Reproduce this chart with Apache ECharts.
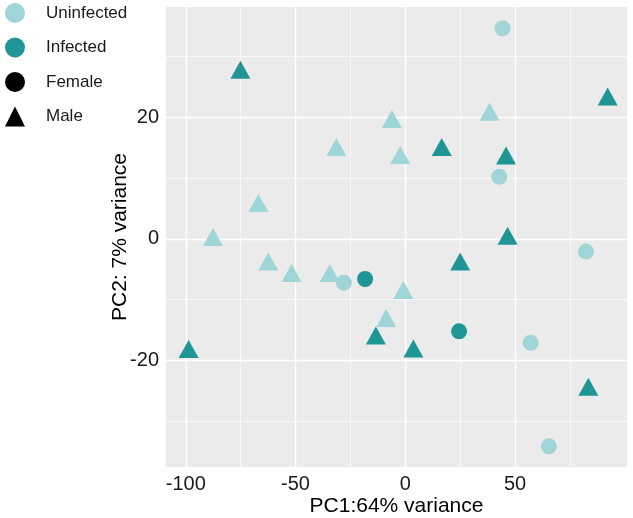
<!DOCTYPE html>
<html>
<head>
<meta charset="utf-8">
<script src="https://cdn.jsdelivr.net/npm/echarts@6/dist/echarts.min.js"></script>
<style>
  html, body { margin: 0; padding: 0; background: #ffffff; }
  #chart { width: 633px; height: 518px; }
</style>
</head>
<body>
<div id="chart"></div>
<script>
// ---- data (PC1, PC2) ----
var uninfectedFemale = [[44.3, 34.6], [42.8, 10.2], [-28.0, -7.2], [82.3, -2.1], [57.1, -17.1], [65.4, -34.1]];
var uninfectedMale = [[-6.1, 19.2], [-31.4, 14.6], [-2.3, 13.3], [-66.9, 5.4], [-87.6, -0.2], [38.4, 20.4],
                      [-62.4, -4.2], [-51.8, -6.1], [-34.4, -6.1], [-0.9, -8.9], [-8.7, -13.5]];
var infectedFemale = [[-18.3, -6.6], [24.5, -15.2]];
var infectedMale = [[-75.1, 27.3], [92.2, 22.9], [16.6, 14.6], [45.9, 13.2], [46.6, 0.0], [25.0, -4.2],
                    [-13.4, -16.4], [-98.7, -18.6], [3.7, -18.5], [83.4, -24.8]];

var xTicks = [-100, -50, 0, 50];
var xMinor = [-75, -25, 25, 75];
var yTicks = [-20, 0, 20];
var yMinor = [-30, -10, 10, 30];
var legendNames = ['Uninfected', 'Infected', 'Female', 'Male'];

var colUn = '#9fd5d6';
var colIn = '#1f9595';
var font = 'Liberation Sans, Arial, sans-serif';

var chart = echarts.init(document.getElementById('chart'), null, { renderer: 'canvas' });

function gridSeries(xs, ys, width) {
  var d = [];
  xs.forEach(function (v) { d.push({ xAxis: v }); });
  ys.forEach(function (v) { d.push({ yAxis: v }); });
  return {
    type: 'scatter', data: [], silent: true, z: 1,
    markLine: {
      z: 1, silent: true, symbol: ['none', 'none'], label: { show: false },
      lineStyle: { color: '#ffffff', width: width, type: 'solid' },
      emphasis: { disabled: true },
      animation: false,
      data: d
    }
  };
}

var triOffset = [0, -3];

var option = {
  animation: false,
  backgroundColor: '#ffffff',
  grid: { left: 166, right: 6, top: 7, bottom: 51, show: true, backgroundColor: '#ebebeb', borderWidth: 0,
          containLabel: false, outerBoundsMode: 'none' },
  legend: {
    orient: 'vertical', left: 5, top: 3, padding: 0,
    itemWidth: 20, itemHeight: 20, itemGap: 14.5,
    selectedMode: false,
    textStyle: { fontSize: 17, color: '#1a1a1a', fontFamily: font, padding: [0, 0, 0, 16] },
    data: [
      { name: legendNames[0], icon: 'circle' },
      { name: legendNames[1], icon: 'circle' },
      { name: legendNames[2], icon: 'circle' },
      { name: legendNames[3], icon: 'triangle' }
    ]
  },
  xAxis: {
    type: 'value', min: -109, max: 101,
    name: 'PC1:64% variance', nameLocation: 'middle', nameGap: 29, nameMoveOverlap: false,
    nameTextStyle: { fontSize: 21, color: '#000000', fontFamily: font },
    axisLine: { show: false },
    axisTick: { show: true, length: 4, lineStyle: { color: '#333333', width: 1 }, customValues: xTicks },
    axisLabel: { fontSize: 20, color: '#1a1a1a', fontFamily: font, margin: 7, customValues: xTicks },
    splitLine: { show: false }
  },
  yAxis: {
    type: 'value', min: -37.5, max: 38.1,
    name: 'PC2: 7% variance', nameLocation: 'middle', nameGap: 35, nameMoveOverlap: false,
    nameTextStyle: { fontSize: 21, color: '#000000', fontFamily: font },
    axisLine: { show: false },
    axisTick: { show: true, length: 4, lineStyle: { color: '#333333', width: 1 }, customValues: yTicks },
    axisLabel: { fontSize: 20, color: '#1a1a1a', fontFamily: font, margin: 7, customValues: yTicks },
    splitLine: { show: false }
  },
  series: [
    gridSeries(xMinor, yMinor, 0.7),
    gridSeries(xTicks, yTicks, 1.4),
    { name: legendNames[0], type: 'scatter', data: [], itemStyle: { color: colUn, opacity: 1 } },
    { name: legendNames[1], type: 'scatter', data: [], itemStyle: { color: colIn, opacity: 1 } },
    { name: legendNames[2], type: 'scatter', data: [], symbol: 'circle', itemStyle: { color: '#000000', opacity: 1 } },
    { name: legendNames[3], type: 'scatter', data: [], symbol: 'triangle', itemStyle: { color: '#000000', opacity: 1 } },
    { name: 'Uninfected Male', type: 'scatter', data: uninfectedMale, symbol: 'triangle', symbolSize: [20, 18],
      symbolOffset: triOffset, itemStyle: { color: colUn, opacity: 1 }, z: 3 },
    { name: 'Uninfected Female', type: 'scatter', data: uninfectedFemale, symbol: 'circle', symbolSize: 16,
      itemStyle: { color: colUn, opacity: 1 }, z: 3 },
    { name: 'Infected Male', type: 'scatter', data: infectedMale, symbol: 'triangle', symbolSize: [20, 18],
      symbolOffset: triOffset, itemStyle: { color: colIn, opacity: 1 }, z: 3 },
    { name: 'Infected Female', type: 'scatter', data: infectedFemale, symbol: 'circle', symbolSize: 16,
      itemStyle: { color: colIn, opacity: 1 }, z: 3 }
  ]
};
chart.setOption(option);
</script>
</body>
</html>
